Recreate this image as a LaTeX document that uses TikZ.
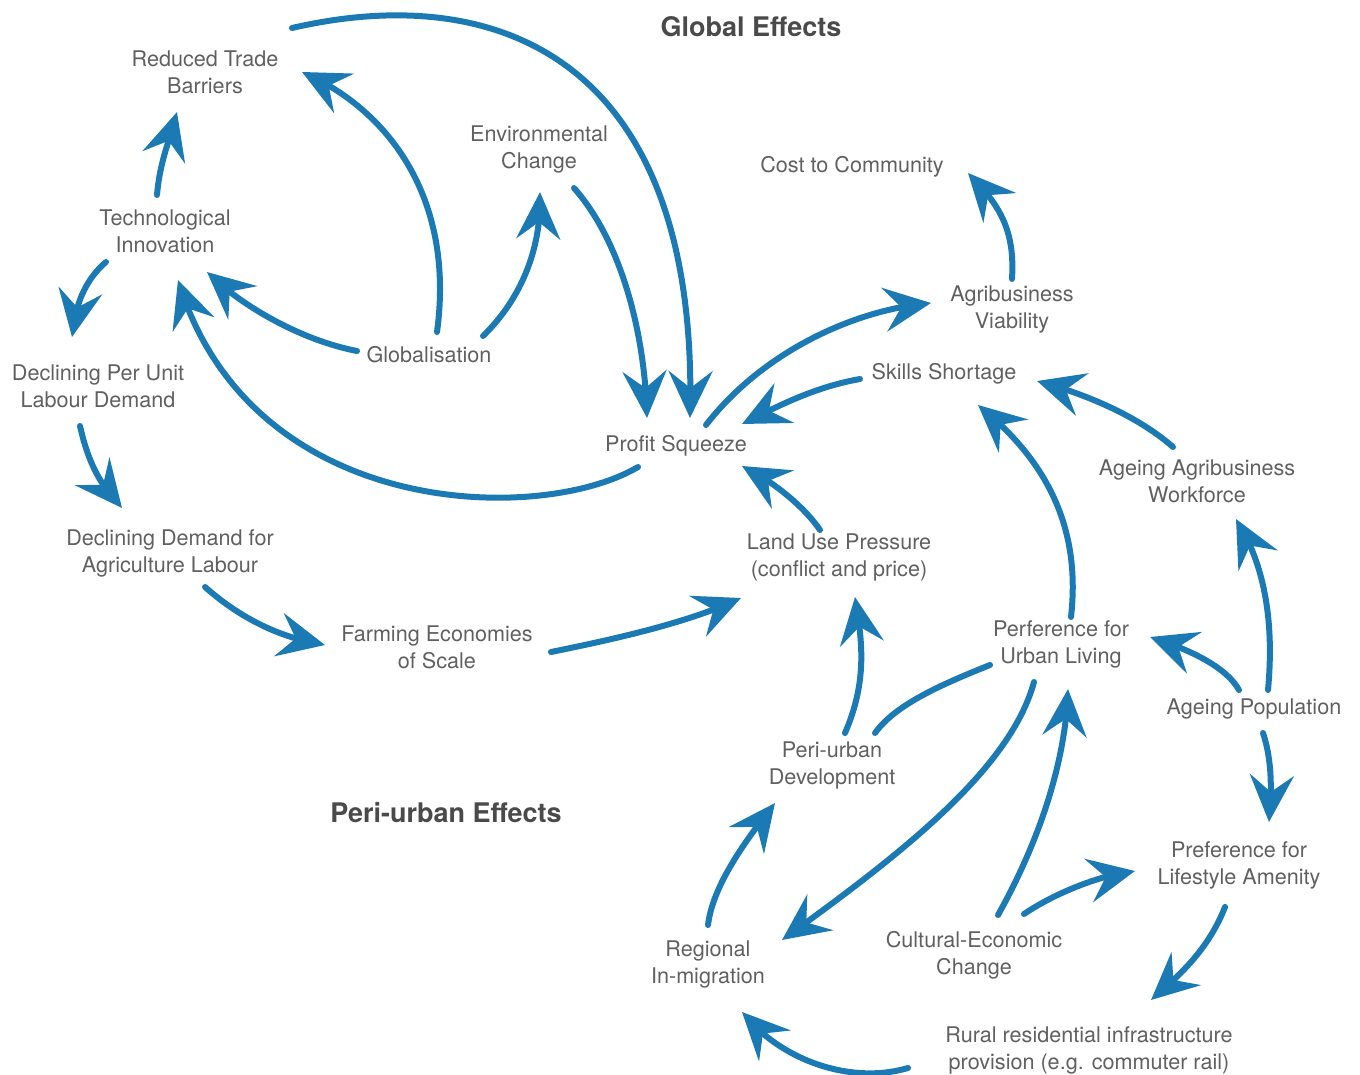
\documentclass[tikz,border=0pt]{standalone}
\usepackage{fontspec}
\setmainfont{TeX Gyre Heros}
\usetikzlibrary{arrows.meta,bending}
\definecolor{arrowblue}{HTML}{1B7AB3}
\definecolor{labelgray}{HTML}{606060}
\definecolor{titlegray}{HTML}{4A4A4A}
\begin{document}
\begin{tikzpicture}[x=1pt,y=-1pt,
 lbl/.style={align=center,text=labelgray,font=\fontsize{21.6}{27}\selectfont,inner sep=0pt},
 ttl/.style={text=titlegray,font=\bfseries\fontsize{27}{30}\selectfont,inner sep=0pt},
 link/.style={draw=arrowblue,line width=6pt,line cap=round,-{Stealth[length=47pt,width=44pt,inset=17pt,flex]}},
 plainlink/.style={draw=arrowblue,line width=6pt,line cap=round}]
\useasboundingbox (0,0) rectangle (1360,1075);

% titles
\node[ttl] (T1) at (751,27) {Global Effects};
\node[ttl] (T2) at (446,813) {Peri-urban Effects};

% nodes
\node[lbl] (RTB) at (205,72) {Reduced Trade\\Barriers};
\node[lbl] (TI) at (165,231) {Technological\\Innovation};
\node[lbl] (EC) at (539,149) {Environmental\\Change};
\node[lbl] (GL) at (429,355) {Globalisation};
\node[lbl] (CC) at (852,167) {Cost to Community};
\node[lbl] (AV) at (1012,309) {Agribusiness\\Viability};
\node[lbl] (SS) at (944,374) {Skills Shortage};
\node[lbl] (PS) at (676,446) {Profit Squeeze};
\node[lbl] (DPU) at (98,386) {Declining Per Unit\\Labour Demand};
\node[lbl] (DD) at (170,553) {Declining Demand for\\Agriculture Labour};
\node[lbl] (AAW) at (1197,481) {Ageing Agribusiness\\Workforce};
\node[lbl] (LUP) at (839,557) {Land Use Pressure\\(conflict and price)};
\node[lbl] (FE) at (437,647) {Farming Economies\\of Scale};
\node[lbl] (PUL) at (1061,644) {Perference for\\Urban Living};
\node[lbl] (AP) at (1254,709) {Ageing Population};
\node[lbl] (PUD) at (832,765) {Peri-urban\\Development};
\node[lbl] (PLA) at (1239,865) {Preference for\\Lifestyle Amenity};
\node[lbl] (RI) at (708,964) {Regional\\In-migration};
\node[lbl] (CEC) at (974,955) {Cultural-Economic\\Change};
\node[lbl] (RR) at (1089,1050) {Rural residential infrastructure\\provision (e.g. commuter rail)};

% connectors
\draw[link] ([shift={(-8,-36)}]TI.center) .. controls +(3,-35) and +(-7,28) .. ([shift={(-28,40)}]RTB.center);
\draw[link] ([shift={(8,-23)}]GL.center) .. controls +(18,-132) and +(88,38) .. ([shift={(97,0)}]RTB.center);
\draw[link] ([shift={(-72,-4)}]GL.center) .. controls +(-57,-11) and +(33,33) .. ([shift={(42,41)}]TI.center);
\draw[link] ([shift={(-38,21)}]PS.center) .. controls +(-98,58) and +(72,240) .. ([shift={(13,49)}]TI.center);
\draw[link] ([shift={(-59,31)}]TI.center) .. controls +(-21,18) and +(3,-32) .. ([shift={(-26,-49)}]DPU.center);
\draw[link] ([shift={(-18,40)}]DPU.center) .. controls +(8,36) and +(-22,-23) .. ([shift={(-48,-45)}]DD.center);
\draw[link] ([shift={(35,34)}]DD.center) .. controls +(35,31) and +(-45,-7) .. ([shift={(-112,-2)}]FE.center);
\draw[link] ([shift={(114,5)}]FE.center) .. controls +(69,-14) and +(-51,24) .. ([shift={(-98,41)}]LUP.center);
\draw[link] ([shift={(35,39)}]EC.center) .. controls +(46,52) and +(-2,-88) .. ([shift={(-29,-28)}]PS.center);
\draw[link] ([shift={(87,-44)}]RTB.center) .. controls +(208,-48) and +(10,-358) .. ([shift={(14,-28)}]PS.center);
\draw[link] ([shift={(54,-19)}]GL.center) .. controls +(37,-36) and +(2,58) .. ([shift={(1,43)}]EC.center);
\draw[link] ([shift={(30,-21)}]PS.center) .. controls +(54,-70) and +(-81,7) .. ([shift={(-81,-6)}]AV.center);
\draw[link] ([shift={(-84,5)}]SS.center) .. controls +(-45,8) and +(38,-19) .. ([shift={(66,-22)}]PS.center);
\draw[link] ([shift={(0,-30)}]AV.center) .. controls +(3,-49) and +(32,32) .. ([shift={(116,6)}]CC.center);
\draw[link] ([shift={(-24,-34)}]AAW.center) .. controls +(-33,-29) and +(53,14) .. ([shift={(93,7)}]SS.center);
\draw[link] ([shift={(10,-27)}]PUL.center) .. controls +(11,-97) and +(62,50) .. ([shift={(34,31)}]SS.center);
\draw[link] ([shift={(14,-19)}]AP.center) .. controls +(7,-75) and +(26,41) .. ([shift={(39,38)}]AAW.center);
\draw[link] ([shift={(-15,-19)}]AP.center) .. controls +(-14,-25) and +(35,11) .. ([shift={(89,-7)}]PUL.center);
\draw[link] ([shift={(9,24)}]AP.center) .. controls +(9,27) and +(3,-32) .. ([shift={(30,-43)}]PLA.center);
\draw[link] ([shift={(-19,-27)}]LUP.center) .. controls +(-15,-22) and +(33,16) .. ([shift={(66,20)}]PS.center);
\draw[link] ([shift={(13,-32)}]PUD.center) .. controls +(23,-53) and +(7,43) .. ([shift={(16,40)}]LUP.center);
\draw[plainlink] ([shift={(-71,21)}]PUL.center) .. controls +(-50,20) and +(20,-28) .. ([shift={(43,-32)}]PUD.center);
\draw[link] ([shift={(-27,38)}]PUL.center) .. controls +(-24,88) and +(118,-85) .. ([shift={(74,-24)}]RI.center);
\draw[link] ([shift={(24,-40)}]CEC.center) .. controls +(42,-75) and +(-2,71) .. ([shift={(7,45)}]PUL.center);
\draw[link] ([shift={(50,-41)}]CEC.center) .. controls +(31,-21) and +(-35,4) .. ([shift={(-104,6)}]PLA.center);
\draw[link] ([shift={(-14,42)}]PLA.center) .. controls +(-17,43) and +(29,-25) .. ([shift={(62,-50)}]RR.center);
\draw[link] ([shift={(-181,18)}]RR.center) .. controls +(-58,17) and +(38,48) .. ([shift={(34,48)}]RI.center);
\draw[link] ([shift={(0,-39)}]RI.center) .. controls +(5,-42) and +(-25,32) .. ([shift={(-57,38)}]PUD.center);
\end{tikzpicture}
\end{document}
